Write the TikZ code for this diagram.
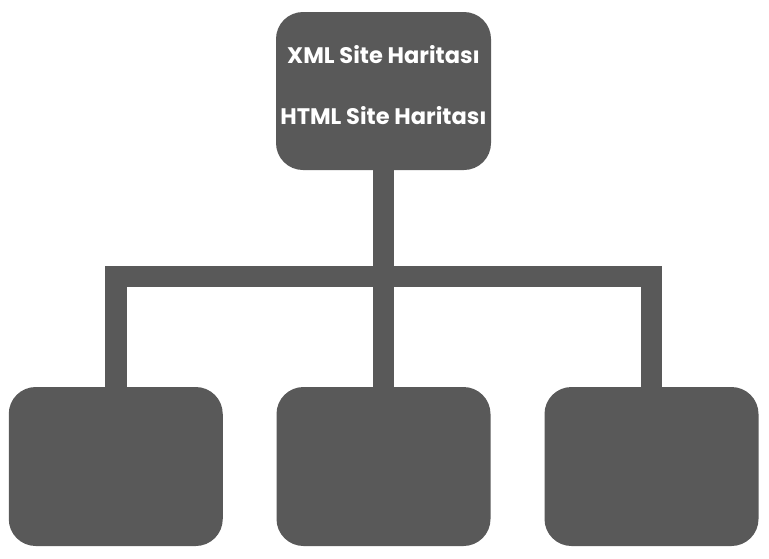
\documentclass[tikz,border=0pt]{standalone}
\usepackage{fontspec}
\setmainfont{Poppins}
\definecolor{boxgray}{HTML}{595959}
\begin{document}
\begin{tikzpicture}[x=1pt,y=-1pt,
  box/.style={fill=boxgray, draw=none, rounded corners=27pt, inner sep=0pt,
    minimum width=214pt, minimum height=159pt, text=white, align=center},
  conn/.style={draw=boxgray, line width=21.5pt, line join=miter}]
\useasboundingbox (0,0) rectangle (769,558);
\node[box, minimum height=158pt, minimum width=215pt,
  font=\fontsize{22.5}{61}\selectfont\bfseries] (top) at (383.5,91) {XML Site Haritası\\HTML Site Haritası\rule[-13pt]{0pt}{0pt}};
\node[box] (b1) at (115.75,466.5) {};
\node[box] (b2) at (383.5,466.5) {};
\node[box] (b3) at (651.5,466.5) {};
\coordinate (j) at (383.5,276.5);
\draw[conn] (top.south) -- (b2.north);
\draw[conn] (b1.north) |- (j) -| (b3.north);
\end{tikzpicture}
\end{document}
